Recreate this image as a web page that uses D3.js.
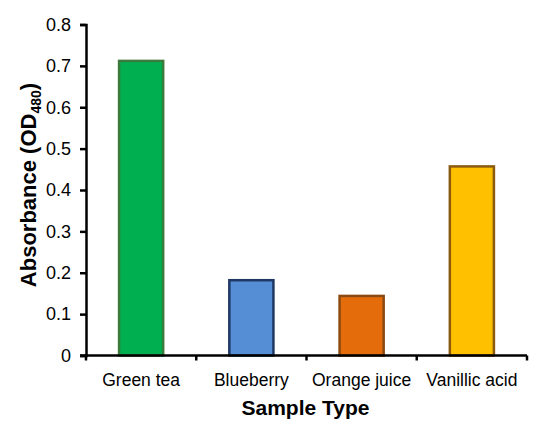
<!doctype html>
<html>
<head>
  <script src="https://cdnjs.cloudflare.com/ajax/libs/d3/7.8.5/d3.min.js" type="text/javascript"></script>
  <style>
    body { margin: 0; background: #fff; }
    text { font-family: "Liberation Sans", Arial, sans-serif; }
  </style>
</head>
<body>
<svg height="424" width="539"></svg>
<script type="text/javascript">
var categories = ["Green tea", "Blueberry", "Orange juice", "Vanillic acid"];
var values = [0.712, 0.182, 0.144, 0.457];
var fills = ["#00B050", "#558ED5", "#E46C0A", "#FFC000"];
var strokes = ["#3C7A3C", "#203864", "#8A4A12", "#8A5A10"];
var yTicks = [0, 0.1, 0.2, 0.3, 0.4, 0.5, 0.6, 0.7, 0.8];

drawChart();

function drawChart() {
  var svg = d3.select("svg");
  var left = 86, right = 527, plotTop = 24.5, bottom = 355.5;

  var x = d3.scaleBand().domain(categories).range([left, right]).paddingInner(0.6).paddingOuter(0.3);
  var y = d3.scaleLinear().domain([0, 0.8]).range([bottom, plotTop]);

  svg.append("g")
    .selectAll("rect")
    .data(values)
    .enter()
    .append("rect")
    .attr("x", (d, i) => x(categories[i]))
    .attr("y", d => y(d))
    .attr("width", x.bandwidth())
    .attr("height", d => y(0) - y(d))
    .style("fill", (d, i) => fills[i])
    .style("stroke", (d, i) => strokes[i])
    .style("stroke-width", "2.5px");

  // y axis
  var yAxis = svg.append("g")
    .attr("transform", "translate(" + left + ",0)")
    .call(d3.axisLeft(y).tickValues(yTicks).tickSize(6).tickPadding(9)
      .tickFormat(d => d === 0 ? "0" : d3.format(".1f")(d)));
  yAxis.select(".domain").attr("stroke", "#000").attr("stroke-width", 2.5);
  yAxis.selectAll(".tick line").attr("stroke", "#000").attr("stroke-width", 2.5);
  yAxis.selectAll(".tick text").style("font-size", "18px").attr("fill", "#000")
    .style("font-family", "'Liberation Sans', Arial, sans-serif");

  // x axis, ticks sit on the category boundaries
  var step = (right - left) / categories.length;
  var xAxis = svg.append("g").attr("transform", "translate(0," + bottom + ")");
  xAxis.append("line").attr("x1", left - 6).attr("x2", right).attr("stroke", "#000").attr("stroke-width", 2.5);
  xAxis.selectAll("line.b")
    .data(d3.range(categories.length + 1))
    .enter().append("line")
    .attr("class", "b")
    .attr("x1", i => left + i * step).attr("x2", i => left + i * step)
    .attr("y1", 0).attr("y2", 5)
    .attr("stroke", "#000").attr("stroke-width", 2.5);
  xAxis.selectAll("text")
    .data(categories)
    .enter().append("text")
    .attr("x", d => x(d) + x.bandwidth() / 2)
    .attr("y", 30)
    .attr("text-anchor", "middle")
    .style("font-size", "17.5px")
    .text(d => d);

  svg.append("text")
    .attr("x", (left + right) / 2 - 1)
    .attr("y", 415)
    .attr("text-anchor", "middle")
    .style("font-size", "21px")
    .style("font-weight", "bold")
    .text("Sample Type");

  var yt = svg.append("text")
    .attr("transform", "translate(36,185) rotate(-90)")
    .attr("text-anchor", "middle")
    .style("font-size", "22px")
    .style("font-weight", "bold");
  yt.append("tspan").text("Absorbance (OD");
  yt.append("tspan").attr("dy", 5).style("font-size", "14px").text("480");
  yt.append("tspan").attr("dy", -5).text(")");
}
</script>
</body>
</html>
